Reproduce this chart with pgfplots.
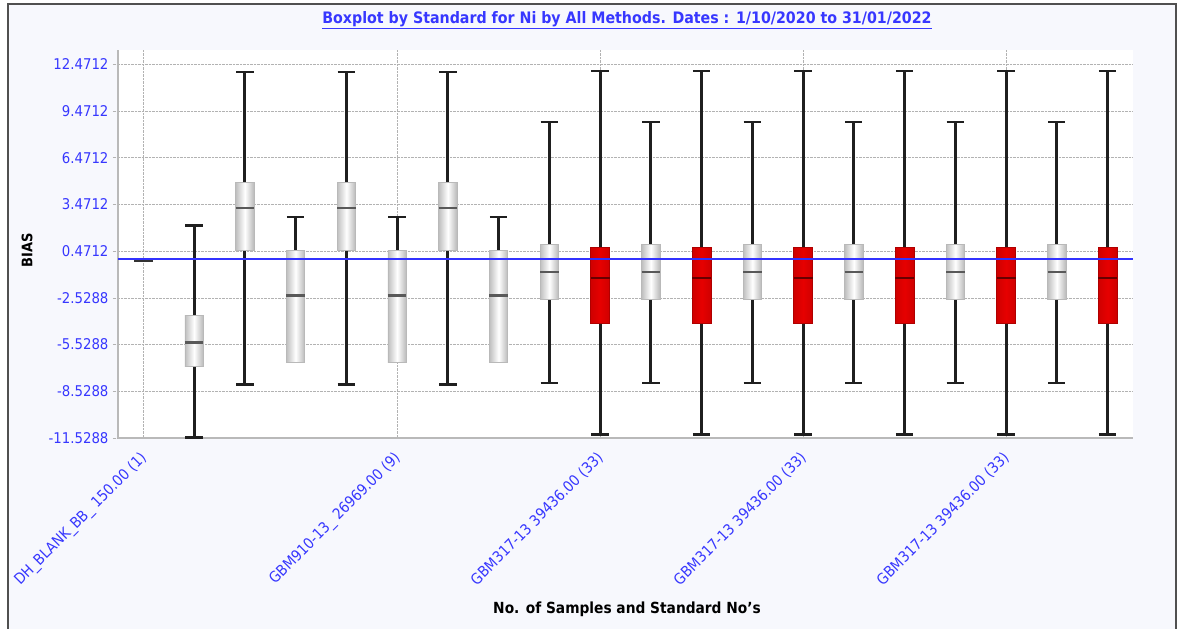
\documentclass[border=0pt]{standalone}
\usepackage{pgfplots}
\pgfplotsset{compat=1.18}
\usepgfplotslibrary{statistics}
\usepackage{fontspec}
\setmainfont{DejaVu Sans Condensed}
\definecolor{tickblue}{RGB}{55,55,255}
\definecolor{linblue}{RGB}{50,50,255}
\definecolor{bgl}{RGB}{247,248,253}
\definecolor{frm}{RGB}{80,80,80}
\definecolor{boxred}{RGB}{230,0,0}
\definecolor{boxredd}{RGB}{175,0,0}
\pgfplotsset{
  graybox/.style={solid, black,
    boxplot/draw direction=y,
    boxplot/box extend=0.36, boxplot/whisker extend=0.34,
    boxplot/every box/.style={draw=gray!55, line width=0.8pt, left color=gray!50, right color=gray!55, middle color=white},
    boxplot/every whisker/.style={line width=2.8pt, black!88},
    boxplot/every median/.style={line width=2.4pt, black!65}},
  redbox/.style={solid, black,
    boxplot/draw direction=y,
    boxplot/box extend=0.37, boxplot/whisker extend=0.34,
    boxplot/every box/.style={draw=boxredd, line width=0.8pt, left color=boxred!90!black, right color=boxred!90!black, middle color=boxred},
    boxplot/every whisker/.style={line width=2.8pt, black!88},
    boxplot/every median/.style={line width=2.4pt, red!40!black}},
}
\begin{document}
\begin{tikzpicture}[x=1pt,y=1pt]
\useasboundingbox (0,0) rectangle (1178,629);
\fill[white] (0,0) rectangle (1178,629);
\filldraw[fill=bgl, draw=frm, line width=2.5pt] (8,-10) rectangle (1176,625);
\begin{axis}[
  at={(118pt,191pt)}, anchor=south west,
  scale only axis, width=1015pt, height=388pt,
  xmin=-0.5, xmax=19.5, ymin=-11.5288, ymax=13.4,
  clip=false,
  axis background/.style={fill=white},
  axis lines*=left,
  axis line style={draw=gray!55, line width=1.2pt, -},
  ytick={-11.5288,-8.5288,-5.5288,-2.5288,0.4712,3.4712,6.4712,9.4712,12.4712},
  yticklabels={-11.5288,-8.5288,-5.5288,-2.5288,0.4712,3.4712,6.4712,9.4712,12.4712},
  xtick={0,5,9,13,17},
  xticklabels={DH\_BLANK\_BB\_ 150.00 (1),GBM910-13\_ 26969.00 (9),GBM317-13 39436.00 (33),GBM317-13 39436.00 (33),GBM317-13 39436.00 (33)},
  tick align=outside,
  ytick style={draw=gray!60, densely dotted, line width=0.8pt},
  major tick length=5pt,
  xtick style={draw=none},
  grid=major,
  grid style={densely dotted, gray!60, line width=0.7pt},
  yticklabel style={text=tickblue, font=\fontsize{14.8}{14.8}\selectfont, xshift=-1pt},
  xticklabel style={text=tickblue, font=\fontsize{15}{15}\selectfont, rotate=45, anchor=north east, xshift=-5pt, yshift=1pt},
]
\addplot[black!80, line width=2.6pt, mark=none, forget plot] coordinates {(-0.18,-0.12) (0.18,-0.12)};
\addplot[graybox, boxplot prepared={draw position=1, lower whisker=-11.5, lower quartile=-6.93, median=-5.39, upper quartile=-3.68, upper whisker=2.11}] coordinates {};
\addplot[graybox, boxplot prepared={draw position=2, lower whisker=-8.11, lower quartile=0.51, median=3.23, upper quartile=4.91, upper whisker=11.99}] coordinates {};
\addplot[graybox, boxplot prepared={draw position=3, lower whisker=-6.65, lower quartile=-6.65, median=-2.38, upper quartile=0.51, upper whisker=2.67}] coordinates {};
\addplot[graybox, boxplot prepared={draw position=4, lower whisker=-8.11, lower quartile=0.51, median=3.23, upper quartile=4.91, upper whisker=11.99}] coordinates {};
\addplot[graybox, boxplot prepared={draw position=5, lower whisker=-6.65, lower quartile=-6.65, median=-2.38, upper quartile=0.51, upper whisker=2.67}] coordinates {};
\addplot[graybox, boxplot prepared={draw position=6, lower whisker=-8.11, lower quartile=0.51, median=3.23, upper quartile=4.91, upper whisker=11.99}] coordinates {};
\addplot[graybox, boxplot prepared={draw position=7, lower whisker=-6.65, lower quartile=-6.65, median=-2.38, upper quartile=0.51, upper whisker=2.67}] coordinates {};
\addplot[graybox, boxplot prepared={draw position=8, lower whisker=-8.00, lower quartile=-2.61, median=-0.88, upper quartile=0.92, upper whisker=8.78}] coordinates {};
\addplot[redbox, boxplot prepared={draw position=9, lower whisker=-11.31, lower quartile=-4.19, median=-1.26, upper quartile=0.70, upper whisker=12.05}] coordinates {};
\addplot[graybox, boxplot prepared={draw position=10, lower whisker=-8.00, lower quartile=-2.61, median=-0.88, upper quartile=0.92, upper whisker=8.78}] coordinates {};
\addplot[redbox, boxplot prepared={draw position=11, lower whisker=-11.31, lower quartile=-4.19, median=-1.26, upper quartile=0.70, upper whisker=12.05}] coordinates {};
\addplot[graybox, boxplot prepared={draw position=12, lower whisker=-8.00, lower quartile=-2.61, median=-0.88, upper quartile=0.92, upper whisker=8.78}] coordinates {};
\addplot[redbox, boxplot prepared={draw position=13, lower whisker=-11.31, lower quartile=-4.19, median=-1.26, upper quartile=0.70, upper whisker=12.05}] coordinates {};
\addplot[graybox, boxplot prepared={draw position=14, lower whisker=-8.00, lower quartile=-2.61, median=-0.88, upper quartile=0.92, upper whisker=8.78}] coordinates {};
\addplot[redbox, boxplot prepared={draw position=15, lower whisker=-11.31, lower quartile=-4.19, median=-1.26, upper quartile=0.70, upper whisker=12.05}] coordinates {};
\addplot[graybox, boxplot prepared={draw position=16, lower whisker=-8.00, lower quartile=-2.61, median=-0.88, upper quartile=0.92, upper whisker=8.78}] coordinates {};
\addplot[redbox, boxplot prepared={draw position=17, lower whisker=-11.31, lower quartile=-4.19, median=-1.26, upper quartile=0.70, upper whisker=12.05}] coordinates {};
\addplot[graybox, boxplot prepared={draw position=18, lower whisker=-8.00, lower quartile=-2.61, median=-0.88, upper quartile=0.92, upper whisker=8.78}] coordinates {};
\addplot[redbox, boxplot prepared={draw position=19, lower whisker=-11.31, lower quartile=-4.19, median=-1.26, upper quartile=0.70, upper whisker=12.05}] coordinates {};
\addplot[draw=linblue, color=linblue, line width=2.2pt, mark=none, forget plot, sharp plot] table {
x y
-0.5 -0.05
19.5 -0.05
};
\end{axis}
\node[text=tickblue, font=\bfseries\fontsize{15.8}{15.8}\selectfont] at (627,609) {\underline{Boxplot by Standard for Ni by All Methods. Dates : 1/10/2020 to 31/01/2022}};
\node[rotate=90, font=\bfseries\fontsize{14.5}{14.5}\selectfont] at (27,379) {BIAS};
\node[font=\bfseries\fontsize{15.3}{15.3}\selectfont] at (627,20) {No. of Samples and Standard No's};
\end{tikzpicture}
\end{document}
